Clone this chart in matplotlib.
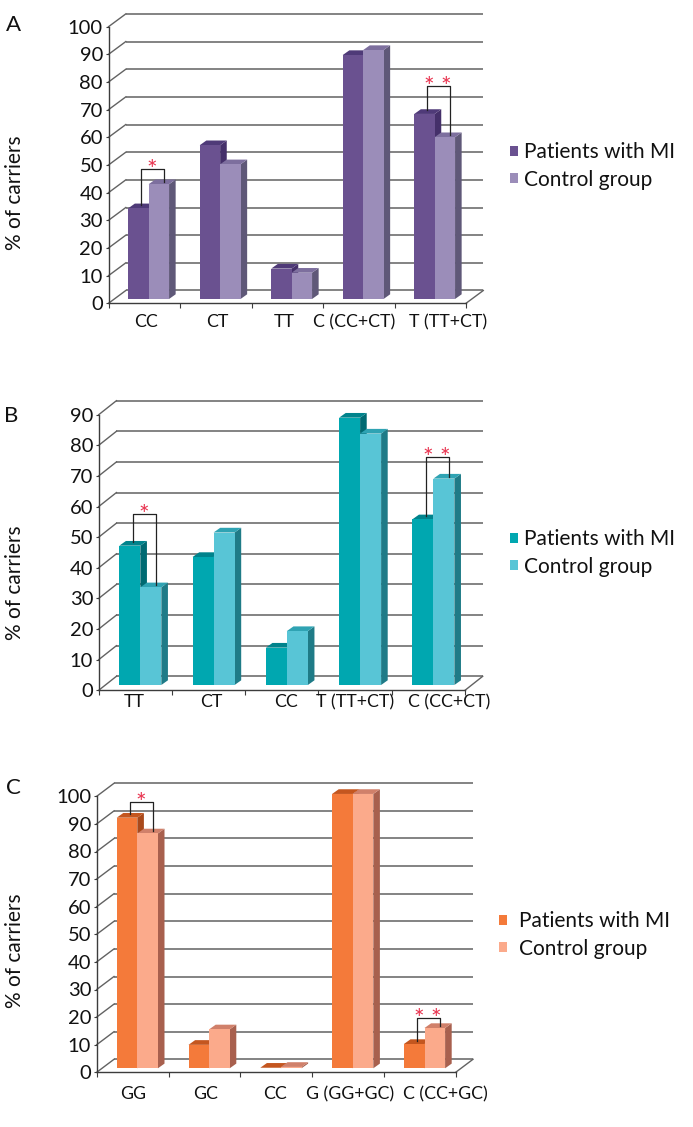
import matplotlib
matplotlib.use("Agg")
import matplotlib.pyplot as plt
from matplotlib.patches import Polygon, Patch

W, H = 693, 1127
plt.rcParams['font.family'] = ['Lato', 'DejaVu Sans']

series_names = ['Patients with MI', 'Control group']

cats_a = ['CC', 'CT', 'TT', 'C (CC+CT)', 'T (TT+CT)']
patients_a = [32.8, 55.6, 11.0, 88.2, 66.9]
control_a = [41.5, 48.7, 9.5, 90.0, 58.5]

cats_b = ['TT', 'CT', 'CC', 'T (TT+CT)', 'C (CC+CT)']
patients_b = [45.5, 41.8, 12.2, 87.3, 54.1]
control_b = [31.9, 49.8, 17.6, 82.1, 67.4]

cats_c = ['GG', 'GC', 'CC', 'G (GG+GC)', 'C (CC+GC)']
patients_c = [90.8, 8.5, 0.2, 99.4, 8.8]
control_c = [85.1, 14.1, 0.5, 99.4, 14.6]

panels = [
    dict(letter='A', letter_xy=(13, 25), cats=cats_a, p=patients_a, c=control_a, ymax=100,
         box=(108.5, 466, 303.3, 26.7), back=(17.3, 12.8), bar_off=(4.4, 4.3), width=20.4,
         label_pos=[0.524, 1.517, 2.455, 3.434, 4.748], label_pad=8,
         ylabel_xy=(15, 193), leg=(510, 166), leg_pad=0.3, sig=[(0, 48.6, '*'), (4, 78.6, '* *')],
         cols=('#6a5190', '#9b8db9', '#4f3a78', '#45306a', '#7d6f9e', '#5f5878')),
    dict(letter='B', letter_xy=(11, 416), cats=cats_b, p=patients_b, c=control_b, ymax=90,
         box=(98.7, 465, 690.3, 414.7), back=(17.7, 14), bar_off=(5, 5.3), width=21,
         label_pos=[0.482, 1.532, 2.555, 3.506, 4.79], label_pad=3,
         ylabel_xy=(15, 583), leg=(510, 553), leg_pad=0.3, sig=[(0, 57.6, '*'), (4, 76.2, '* *')],
         cols=('#00a7b0', '#58c5d6', '#00838c', '#006a72', '#2fa3b3', '#1f7b87')),
    dict(letter='C', letter_xy=(13, 788), cats=cats_c, p=patients_c, c=control_c, ymax=100,
         box=(96.7, 455.7, 1072.3, 796.3), back=(17.3, 13), bar_off=(4.7, 4), width=20.6,
         label_pos=[0.51, 1.518, 2.483, 3.53, 4.85], label_pad=10,
         ylabel_xy=(15, 951), leg=(499, 935), leg_pad=0.58, sig=[(0, 97.9, '*'), (4, 19.6, '* *')],
         cols=('#f47a3a', '#fbaa8b', '#c4561f', '#a9491b', '#d0806a', '#a8604e')),
]

fig = plt.figure(figsize=(W / 100, H / 100), dpi=100)
GRID = '#626262'
AX = '#3c3c3c'
RED = '#e8324e'

for P in panels:
    l, r, y0, yt = P['box']
    ax = fig.add_axes([l / W, 1 - y0 / H, (r - l) / W, (y0 - yt) / H])
    n = len(P['cats'])
    ymax = P['ymax']
    ax.set_xlim(0, n)
    ax.set_ylim(0, ymax)
    ax.patch.set_alpha(0)
    sx = (r - l) / n            # px per category
    sy = (y0 - yt) / ymax       # px per value unit
    bdx, bdy = P['back'][0] / sx, P['back'][1] / sy

    # back wall, side wall, floor
    for v in range(0, ymax + 1, 10):
        ax.plot([bdx, n + bdx], [v + bdy, v + bdy], color=GRID, lw=1.1,
                clip_on=False, zorder=1, solid_capstyle='butt')
        ax.plot([0, bdx], [v, v + bdy], color=GRID, lw=1.0, clip_on=False, zorder=1)
    ax.plot([n, n + bdx], [0, bdy], color=GRID, lw=1.0, clip_on=False, zorder=1)

    # bars
    w = P['width'] / sx
    ox, oy = P['bar_off'][0] / sx, P['bar_off'][1] / sy
    ddx, ddy = 6.6 / sx, 4.7 / sy
    cols = P['cols']
    z = 3
    for i in range(n):
        for j, vals in enumerate((P['p'], P['c'])):
            x0 = i + 0.5 + ox + (j - 1) * w
            v = vals[i]
            b = oy
            top = v + oy
            ax.add_patch(Polygon([(x0 + w, b), (x0 + w + ddx, b + ddy), (x0 + w + ddx, top + ddy), (x0 + w, top)],
                                 closed=True, fc=cols[3 + 2 * j], ec='none', clip_on=False, zorder=z))
            ax.add_patch(Polygon([(x0, top), (x0 + ddx, top + ddy), (x0 + w + ddx, top + ddy), (x0 + w, top)],
                                 closed=True, fc=cols[2 + 2 * j], ec='none', clip_on=False, zorder=z))
            ax.bar(x0, v, width=w, bottom=b, align='edge', color=cols[j], edgecolor='none',
                   clip_on=False, zorder=z + 0.1)
            z += 0.2

    # significance brackets
    for idx, level, stars in P['sig']:
        xc = idx + 0.5 + ox
        xl, xr = xc - 7.3 / sx, xc + 15.3 / sx
        yl = P['p'][idx] + oy + 3.5 / sy
        yr = P['c'][idx] + oy + 2 / sy
        ax.plot([xl, xl, xr, xr], [yl, level, level, yr], color='#222222', lw=0.9,
                clip_on=False, zorder=20)
        ax.text((xl + xr) / 2 - 0.5 / sx, level + 0.5 / sy, stars, color=RED, fontsize=18, ha='center',
                va='center_baseline', clip_on=False, zorder=21)

    # axes
    for s in ('top', 'right'):
        ax.spines[s].set_visible(False)
    for s in ('left', 'bottom'):
        ax.spines[s].set_color(AX)
        ax.spines[s].set_linewidth(1.0)
    ax.set_yticks(range(0, ymax + 1, 10))
    ax.set_xticks(range(n + 1))
    ax.set_xticklabels([])
    ax.tick_params(axis='y', length=2.5, width=0.8, color=AX, labelsize=14.5, pad=1.5, labelcolor='#111111')
    ax.tick_params(axis='x', which='major', length=3.5, width=0.8, color=AX)
    ax.set_xticks(P['label_pos'], P['cats'], minor=True)
    ax.tick_params(axis='x', which='minor', length=0, labelsize=12.8, pad=P['label_pad'], labelcolor='#111111')

    fig.text(P['ylabel_xy'][0] / W, 1 - P['ylabel_xy'][1] / H, '% of carriers', rotation=90,
             ha='center', va='center', fontsize=15, color='#111111')
    fig.text(P['letter_xy'][0] / W, 1 - P['letter_xy'][1] / H, P['letter'], ha='center', va='center',
             fontsize=16, color='#111111')

    handles = [Patch(fc=cols[0], ec='none'), Patch(fc=cols[1], ec='none')]
    lx, ly = P['leg']
    fig.legend(handles, series_names, loc='center left', bbox_to_anchor=(lx / W, 1 - ly / H),
               frameon=False, fontsize=15, handlelength=0.38, handleheight=0.38, handletextpad=P['leg_pad'],
               labelspacing=0.35, borderpad=0, borderaxespad=0, labelcolor='#111111')

fig.savefig('out.png', dpi=100)
